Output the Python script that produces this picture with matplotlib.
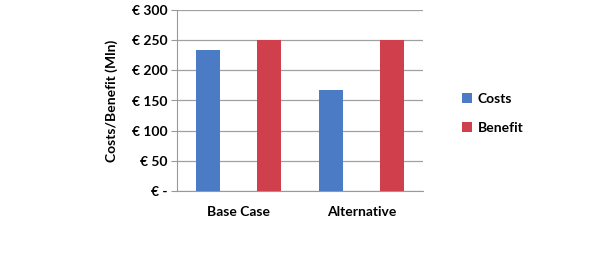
import numpy as np
import matplotlib.pyplot as plt
from matplotlib.ticker import FuncFormatter

categories = ["Base Case", "Alternative"]
costs = [234, 167]
benefit = [250, 250]
y_ticks = [0, 50, 100, 150, 200, 250, 300]

plt.rcParams['font.family'] = ['Lato', 'DejaVu Sans']

fig = plt.figure(figsize=(6, 2.66), dpi=100)
ax = fig.add_axes([177 / 600, 1 - 191 / 266, 246 / 600, 181 / 266])

x = np.arange(len(categories))
w = 0.195
ax.bar(x - 0.25, costs, w, color='#4a7bc4', label='Costs', zorder=3)
ax.bar(x + 0.25, benefit, w, color='#d0404c', label='Benefit', zorder=3)

ax.set_xlim(-0.5, 1.5)
ax.set_ylim(0, 300)
ax.set_yticks(y_ticks)
ax.yaxis.set_major_formatter(FuncFormatter(lambda v, p: "€ -" if v == 0 else f"€ {v:.0f}"))
ax.set_xticks(x)
ax.set_xticklabels(categories, fontweight='bold', fontsize=10)
ax.tick_params(axis='x', length=0, pad=11)
ax.tick_params(axis='y', length=4, color='#999999', labelsize=10, pad=3)
for lbl in ax.get_yticklabels():
    lbl.set_fontweight('bold')

ax.grid(axis='y', color='#a0a0a0', linewidth=0.9, zorder=0)
for s in ['top', 'right']:
    ax.spines[s].set_visible(False)
ax.spines['left'].set_color('#999999')
ax.spines['bottom'].set_color('#999999')

ax.set_ylabel("Costs/Benefit (Mln)", fontweight='bold', fontsize=10, labelpad=10)

ax.legend(loc='center left', bbox_to_anchor=(1.16, 0.43), frameon=False,
          borderaxespad=0, borderpad=0,
          prop={'weight': 'bold', 'size': 10}, handlelength=0.7, handleheight=0.7,
          handletextpad=0.4, labelspacing=1.2)

fig.savefig("out.png", dpi=100)
